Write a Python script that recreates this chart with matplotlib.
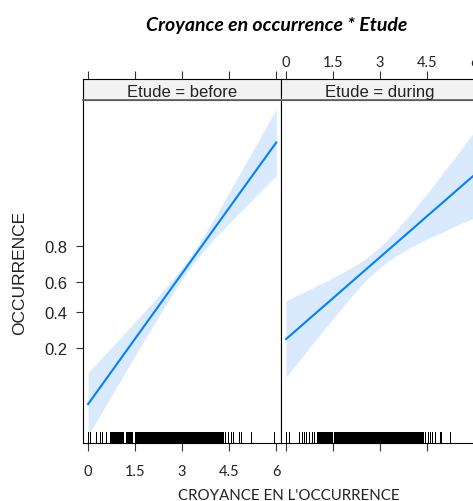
import matplotlib
matplotlib.use('Agg')
import matplotlib.pyplot as plt
from matplotlib.ticker import NullLocator
from matplotlib.transforms import blended_transform_factory

# Valeurs (effet prédit, échelle probabilité)
croyance = [0, 0.5, 1, 1.5, 2, 2.5, 3, 3.5, 4, 4.5, 5, 5.5, 6]

fit_before = [0.0517, 0.0896, 0.1510, 0.2431, 0.3673, 0.5120, 0.6545,
              0.7740, 0.8608, 0.9179, 0.9528, 0.9733, 0.9850]
low_before = [0.0227, 0.0457, 0.0897, 0.1685, 0.2923, 0.4546, 0.6175,
              0.7448, 0.8252, 0.8802, 0.9187, 0.9457, 0.9640]
up_before = [0.1130, 0.1683, 0.2429, 0.3372, 0.4492, 0.5691, 0.6897,
             0.8008, 0.8902, 0.9445, 0.9730, 0.9871, 0.9939]

fit_during = [0.2414, 0.3154, 0.4004, 0.4915, 0.5835, 0.6700, 0.7461,
              0.8098, 0.8604, 0.8994, 0.9282, 0.9494, 0.9645]
low_during = [0.1011, 0.1612, 0.2469, 0.3569, 0.4810, 0.5996, 0.6913,
              0.7518, 0.7945, 0.8282, 0.8532, 0.8767, 0.8939]
up_during = [0.4738, 0.5247, 0.5762, 0.6274, 0.6792, 0.7334, 0.7942,
             0.8569, 0.9077, 0.9430, 0.9665, 0.9802, 0.9887]

# Valeurs observées (rug)
rug_before = [
    0.00, 0.05, 0.27, 0.39, 0.46, 0.56,
    0.69, 0.72, 0.74, 0.77, 0.79, 0.82, 0.84, 0.87, 0.89, 0.92, 0.94,
    0.97, 0.99, 1.02, 1.04, 1.07, 1.09, 1.12, 1.20, 1.23, 1.25, 1.28,
    1.30, 1.33, 1.35, 1.38, 1.40,
    1.49, 1.52, 1.54, 1.57, 1.59, 1.62, 1.64, 1.67, 1.69, 1.72, 1.74,
    1.77, 1.79, 1.82, 1.84, 1.87, 1.89, 1.92, 1.94, 1.97, 1.99, 2.02,
    2.04, 2.07, 2.09, 2.12, 2.14, 2.17, 2.19, 2.22, 2.24, 2.27, 2.29,
    2.32, 2.34, 2.37, 2.39, 2.42, 2.44, 2.47, 2.49, 2.52, 2.54, 2.57,
    2.59, 2.62, 2.64, 2.67, 2.69, 2.72, 2.74, 2.77, 2.79, 2.82, 2.84,
    2.87, 2.89, 2.92, 2.94, 2.97, 2.99, 3.02, 3.04, 3.07, 3.09, 3.12,
    3.14, 3.17, 3.19, 3.22, 3.24, 3.27, 3.29, 3.32, 3.34, 3.37, 3.39,
    3.42, 3.44, 3.47, 3.49, 3.52, 3.54, 3.57, 3.59, 3.62, 3.64, 3.67,
    3.69, 3.72, 3.74, 3.77, 3.79, 3.82, 3.84, 3.87, 3.89, 3.92, 3.94,
    3.97, 3.99, 4.02, 4.04, 4.07, 4.09, 4.12, 4.14, 4.17, 4.19, 4.22,
    4.24, 4.27, 4.29,
    4.35, 4.45, 4.56, 4.63, 4.82, 4.88, 5.18, 5.92]
rug_during = [
    0.00, 0.10, 0.42, 0.50, 0.58, 0.65, 0.74, 0.82, 0.90,
    1.00, 1.02, 1.05, 1.07, 1.10, 1.12, 1.15, 1.17, 1.20, 1.22, 1.25,
    1.27, 1.30, 1.32, 1.35, 1.37, 1.40, 1.42, 1.45,
    1.52, 1.54, 1.57, 1.59, 1.62, 1.64, 1.67, 1.69, 1.72, 1.74, 1.77,
    1.79, 1.82, 1.84, 1.87, 1.89, 1.92, 1.94, 1.97, 1.99, 2.02, 2.04,
    2.07, 2.09, 2.12, 2.14, 2.17, 2.19, 2.22, 2.24, 2.27, 2.29, 2.32,
    2.34, 2.37, 2.39, 2.42, 2.44, 2.47, 2.49, 2.52, 2.54, 2.57, 2.59,
    2.62, 2.64, 2.67, 2.69, 2.72, 2.74, 2.77, 2.79, 2.82, 2.84, 2.87,
    2.89, 2.92, 2.94, 2.97, 2.99, 3.02, 3.04, 3.07, 3.09, 3.12, 3.14,
    3.17, 3.19, 3.22, 3.24, 3.27, 3.29, 3.32, 3.34, 3.37, 3.39, 3.42,
    3.44, 3.47, 3.49, 3.52, 3.54, 3.57, 3.59, 3.62, 3.64, 3.67, 3.69,
    3.72, 3.74, 3.77, 3.79, 3.82, 3.84, 3.87, 3.89, 3.92, 3.94, 3.97,
    3.99, 4.02, 4.04, 4.07, 4.09, 4.12, 4.14, 4.17, 4.19, 4.22, 4.24,
    4.27, 4.29, 4.32, 4.35,
    4.43, 4.52, 4.60, 4.66, 4.74, 4.90, 4.94, 5.22, 6.00]

etudes = ['before', 'during']
x_ticks = [0, 1.5, 3, 4.5, 6]
x_tick_labels = ['0', '1.5', '3', '4.5', '6']
y_ticks = [0.2, 0.4, 0.6, 0.8]
y_tick_labels = ['0.2', '0.4', '0.6', '0.8']

W, H = 473, 502
ARIAL = ['Liberation Sans', 'DejaVu Sans']
CALIB = ['Lato', 'DejaVu Sans']
LINE_COL = '#0080ff'
BAND_COL = '#d9eaff'


def box(x0, y0, x1, y1):
    return [x0 / W, 1 - y1 / H, (x1 - x0) / W, (y1 - y0) / H]


fig = plt.figure(figsize=(W / 100, H / 100), dpi=100)

series = {
    'before': (fit_before, low_before, up_before, rug_before),
    'during': (fit_during, low_during, up_during, rug_during),
}
panel_px = [(83, 101, 281, 444), (281, 101, 479, 444)]

for i, etude in enumerate(etudes):
    fit, low, up, rug = series[etude]
    x0, y0, x1, y1 = panel_px[i]

    ax = fig.add_axes(box(x0, y0, x1, y1))
    ax.fill_between(croyance, low, up, color=BAND_COL, lw=0)
    ax.plot(croyance, fit, color=LINE_COL, lw=1.5)
    trans = blended_transform_factory(ax.transData, ax.transAxes)
    ax.vlines(rug, 0, 0.032, transform=trans, colors='black', lw=0.5,
              antialiased=False)

    ax.set_yscale('logit')
    ax.set_ylim(0.0187, 0.9952)
    ax.set_xlim(-0.16, 6.15)
    ax.yaxis.set_minor_locator(NullLocator())
    ax.xaxis.set_minor_locator(NullLocator())
    ax.set_xticks(x_ticks)
    ax.tick_params(axis='x', direction='out', length=5.8, width=0.8,
                   color='#333333', pad=9.5)
    if i == 0:
        ax.set_xticklabels(x_tick_labels, fontsize=10.5, family=CALIB,
                           color='#222222')
        ax.set_yticks(y_ticks)
        ax.set_yticklabels(y_tick_labels, fontsize=12, family=ARIAL,
                           color='#222222')
        ax.tick_params(axis='y', direction='out', length=5, width=0.8,
                       color='#333333', pad=6.5)
    else:
        ax.set_xticklabels([])
        ax.set_yticks(y_ticks)
        ax.set_yticklabels([])
        ax.tick_params(axis='y', length=0)
    for s in ax.spines.values():
        s.set_linewidth(0.8)
        s.set_color('black')

    # bandeau
    st = fig.add_axes(box(x0, 80, x1, 101))
    st.set_facecolor('#f2f2f2')
    st.set_xlim(-0.16, 6.15)
    st.set_ylim(0, 1)
    st.set_yticks([])
    st.xaxis.tick_top()
    st.set_xticks(x_ticks)
    st.tick_params(axis='x', direction='out', length=5.8, width=0.8,
                   color='#333333', pad=1.5)
    if i == 1:
        st.set_xticklabels(x_tick_labels, fontsize=10.5, family=CALIB,
                           color='#222222')
    else:
        st.set_xticklabels([])
    for s in st.spines.values():
        s.set_linewidth(0.8)
        s.set_color('black')
    st.spines['bottom'].set_color('#666666')
    st.spines['bottom'].set_linewidth(1.3)
    st.text(0.5, 0.4, 'Etude = ' + etude, transform=st.transAxes,
            ha='center', va='center', fontsize=12, family=ARIAL,
            color='#222222')

fig.text(277 / W, 1 - 25 / H, 'Croyance en occurrence * Etude',
         ha='center', va='center', fontsize=14, family=CALIB,
         fontweight='bold', fontstyle='italic', color='black')
fig.text(288.5 / W, 1 - 496 / H, "CROYANCE EN L'OCCURRENCE",
         ha='center', va='center', fontsize=10.8, family=CALIB,
         color='#222222')
fig.text(20 / W, 1 - 273 / H, 'OCCURRENCE', rotation=90,
         ha='center', va='center', fontsize=12.5, family=ARIAL,
         color='#222222')

fig.savefig('out.png', dpi=100)
